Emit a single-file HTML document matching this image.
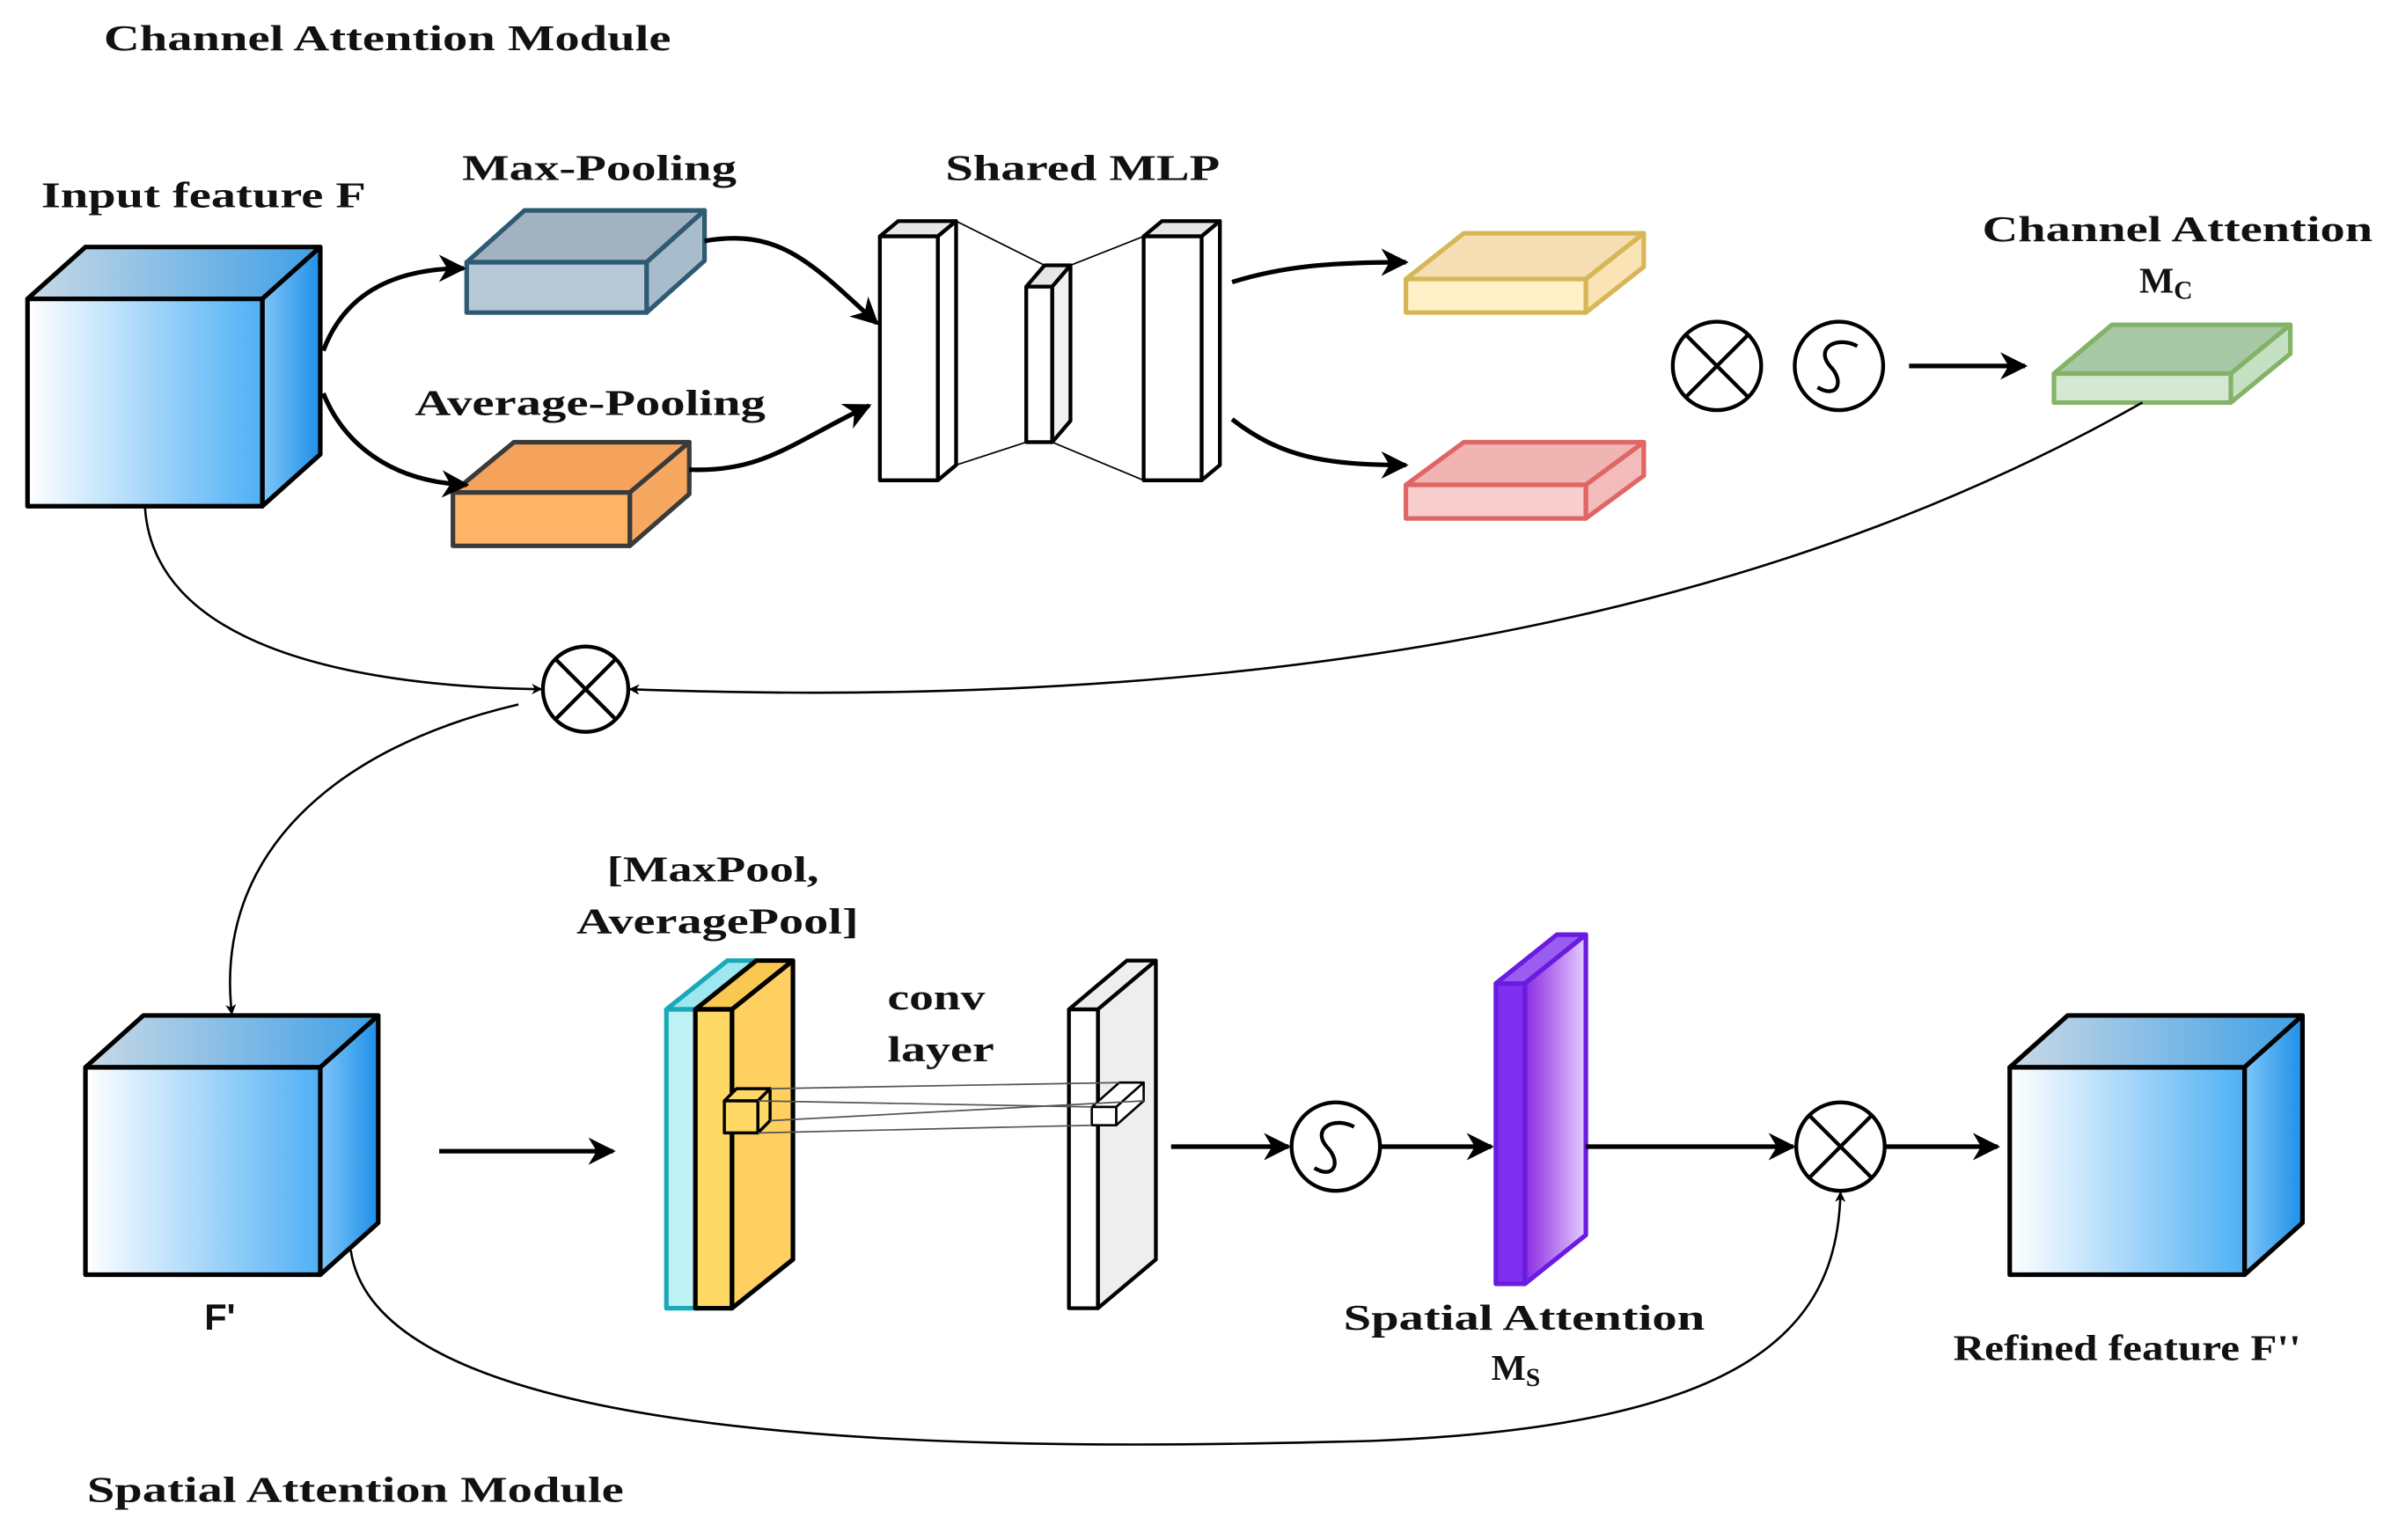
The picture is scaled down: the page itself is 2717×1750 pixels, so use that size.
<!DOCTYPE html>
<html><head><meta charset="utf-8"><style>
html,body{margin:0;padding:0;background:#fff;}
svg{display:block;}
text{font-family:"Liberation Serif",serif;font-weight:bold;fill:#111;}
</style></head><body>
<svg width="2717" height="1750" viewBox="0 0 1568 1010" xmlns="http://www.w3.org/2000/svg">
<defs>
<linearGradient id="gf" x1="0" x2="1" y1="0" y2="0"><stop offset="0" stop-color="#fff"/><stop offset="1" stop-color="#4fb0f5"/></linearGradient>
<linearGradient id="gt" x1="0" x2="1" y1="0" y2="0"><stop offset="0" stop-color="#c9d9e6"/><stop offset="1" stop-color="#3f9fe6"/></linearGradient>
<linearGradient id="gs" x1="0" x2="1" y1="0" y2="0"><stop offset="0" stop-color="#7fc6f8"/><stop offset="1" stop-color="#1e8fe8"/></linearGradient>
<linearGradient id="gp" x1="0" x2="1" y1="0" y2="0"><stop offset="0" stop-color="#8a2be2"/><stop offset="1" stop-color="#e6ccff"/></linearGradient>
<marker id="a" viewBox="0 0 10 10" refX="9" refY="5" markerWidth="7" markerHeight="7" markerUnits="userSpaceOnUse" orient="auto"><path d="M0,0 L10,5 L0,10 L3,5z" fill="#000"/></marker>
<marker id="A" viewBox="0 0 10 10" refX="9" refY="5" markerWidth="22" markerHeight="18" markerUnits="userSpaceOnUse" orient="auto"><path d="M0,0 L10,5 L0,10 L3,5z" fill="#000"/></marker>
</defs>
<g stroke="#000" stroke-width="3" stroke-linejoin="round">
<g id="cube">
<polygon points="18,196 56,162 210,162 172,196" fill="url(#gt)"/>
<polygon points="172,196 210,162 210,298 172,332" fill="url(#gs)"/>
<rect x="18" y="196" width="154" height="136" fill="url(#gf)"/>
</g>
<use href="#cube" transform="translate(38,504)"/>
<use href="#cube" transform="translate(1300,504)"/>
<g stroke="#2e5a73"><polygon points="306,172 344,138 462,138 424,172" fill="#a3b2c0"/><polygon points="424,172 462,138 462,171 424,205" fill="#a9bccb"/><rect x="306" y="172" width="118" height="33" fill="#b7c8d6"/></g>
<g stroke="#3a3a3a"><polygon points="297,323 337,290 452,290 413,323" fill="#f5a35c"/><polygon points="413,323 452,290 452,324 413,358" fill="#f7a860"/><rect x="297" y="323" width="116" height="35" fill="#ffb366"/></g>
<g stroke-width="2.5" fill="#fff">
<polygon points="577,155 589,145 627,145 615,155" fill="#e6e6e6"/><polygon points="615,155 627,145 627,305 615,315"/><rect x="577" y="155" width="38" height="160"/>
<polygon points="673,188 685,174 702,174 690,188" fill="#e6e6e6"/><polygon points="690,188 702,174 702,276 690,290" fill="#f0f0f0"/><rect x="673" y="188" width="17" height="102"/>
<polygon points="750,155 762,145 800,145 788,155" fill="#e6e6e6"/><polygon points="788,155 800,145 800,305 788,315"/><rect x="750" y="155" width="38" height="160"/>
</g>
<g stroke-width="1"><line x1="627" y1="145" x2="685" y2="174"/><line x1="627" y1="305" x2="673" y2="290"/><line x1="750" y1="155" x2="702" y2="174"/><line x1="750" y1="315" x2="690" y2="290"/></g>
<g stroke="#d6b656"><polygon points="922,183 960,153 1078,153 1040,183" fill="#f5deb3"/><polygon points="1040,183 1078,153 1078,175 1040,205" fill="#fae3b5"/><rect x="922" y="183" width="118" height="22" fill="#fff0c8"/></g>
<g stroke="#e06666"><polygon points="922,318 960,290 1078,290 1040,318" fill="#f0b4b2"/><polygon points="1040,318 1078,290 1078,312 1040,340" fill="#f3bcbb"/><rect x="922" y="318" width="118" height="22" fill="#f8cecc"/></g>
<g stroke="#82b366"><polygon points="1347,245 1385,213 1502,213 1463,245" fill="#a8c8a6"/><polygon points="1463,245 1502,213 1502,232 1463,264" fill="#c6e0c4"/><rect x="1347" y="245" width="116" height="19" fill="#d5e8d4"/></g>
<polygon points="437,662 477,630 497,630 457,662" fill="#9ee7ee" stroke="#1aa9b7"/><polygon points="457,662 497,630 497,826 457,858" fill="#7ad6e0" stroke="#1aa9b7"/><rect x="437" y="662" width="20" height="196" fill="#bff2f5" stroke="#1aa9b7"/>
<polygon points="456,662 496,630 520,630 480,662" fill="#f8c850"/><polygon points="480,662 520,630 520,826 480,858" fill="#ffd060"/><rect x="456" y="662" width="24" height="196" fill="#ffd966"/>
<g stroke-width="2"><polygon points="475,722 483,714 505,714 497,722" fill="#ffd966"/><polygon points="497,722 505,714 505,735 497,743" fill="#ffd966"/><rect x="475" y="722" width="22" height="21" fill="#ffd966"/></g>
<polygon points="701,662 739,630 758,630 720,662" fill="#eee" stroke-width="2.5"/><polygon points="720,662 758,630 758,826 720,858" fill="#eee" stroke-width="2.5"/><rect x="701" y="662" width="19" height="196" fill="#fff" stroke-width="2.5"/>
<g stroke-width="1.5" fill="#fff"><polygon points="716,726 734,710 750,710 732,726"/><polygon points="732,726 750,710 750,722 732,738"/><rect x="716" y="726" width="16" height="12"/></g>
<g stroke-width="1" stroke="#555"><line x1="505" y1="714" x2="734" y2="710"/><line x1="497" y1="722" x2="716" y2="726"/><line x1="505" y1="735" x2="750" y2="722"/><line x1="497" y1="743" x2="716" y2="738"/></g>
<polygon points="981,645 1021,613 1040,613 1000,645" fill="#9b5cf0" stroke="#6a1be0"/><polygon points="1000,645 1040,613 1040,810 1000,842" fill="url(#gp)" stroke="#6a1be0"/><rect x="981" y="645" width="19" height="197" fill="#7f2ff0" stroke="#6a1be0"/>
<g fill="#fff" stroke-width="2.5">
<circle cx="1126" cy="240" r="29"/><circle cx="1206" cy="240" r="29"/><circle cx="384" cy="452" r="28"/><circle cx="876" cy="752" r="29"/><circle cx="1207" cy="752" r="29"/>
</g>
<g stroke-width="2.5" fill="none">
<path d="M1106,220 L1146,260 M1146,220 L1106,260"/><path d="M364,432 L404,472 M404,432 L364,472"/><path d="M1187,732 L1227,772 M1227,732 L1187,772"/>
<path d="M1218,227 C1205,220 1190,228 1200,240 C1210,250 1205,262 1192,254"/>
<path d="M888,739 C875,732 860,740 870,752 C880,762 875,774 862,766"/>
</g>
<g fill="none" stroke-width="3">
<path d="M212,230 C225,195 255,176 304,176" marker-end="url(#A)"/>
<path d="M212,258 C225,290 255,316 306,318" marker-end="url(#A)"/>
<path d="M462,158 C510,150 530,170 575,212" marker-end="url(#A)"/>
<path d="M452,308 C500,310 520,290 570,266" marker-end="url(#A)"/>
<path d="M808,185 C840,175 870,172 922,172" marker-end="url(#A)"/>
<path d="M808,275 C840,300 870,305 922,305" marker-end="url(#A)"/>
<path d="M1252,240 L1328,240" marker-end="url(#A)"/>
<path d="M288,755 L402,755" marker-end="url(#A)"/>
<path d="M768,752 L845,752" marker-end="url(#A)"/>
<path d="M906,752 L978,752" marker-end="url(#A)"/>
<path d="M1040,752 L1176,752" marker-end="url(#A)"/>
<path d="M1237,752 L1310,752" marker-end="url(#A)"/>
</g>
<g fill="none" stroke-width="1.5">
<path d="M95,332 C100,420 220,450 355,452" marker-end="url(#a)"/>
<path d="M1405,264 C1200,380 900,470 413,452" marker-end="url(#a)"/>
<path d="M340,462 C220,490 140,560 152,665" marker-end="url(#a)"/>
<path d="M230,820 C250,960 700,950 900,945 C1150,935 1205,870 1207,782" marker-end="url(#a)"/>
</g>
</g>
<g font-size="24">
<text x="68" y="33" textLength="372" lengthAdjust="spacingAndGlyphs">Channel Attention Module</text>
<text x="27" y="136" textLength="213" lengthAdjust="spacingAndGlyphs">Input feature F</text>
<text x="303" y="118" textLength="180" lengthAdjust="spacingAndGlyphs">Max-Pooling</text>
<text x="620" y="118" textLength="180" lengthAdjust="spacingAndGlyphs">Shared MLP</text>
<text x="272" y="272" textLength="230" lengthAdjust="spacingAndGlyphs">Average-Pooling</text>
<text x="1300" y="158" textLength="256" lengthAdjust="spacingAndGlyphs">Channel Attention</text>
<text x="1403" y="192">M<tspan font-size="17" dy="4">C</tspan></text>
<text x="398" y="578" textLength="139" lengthAdjust="spacingAndGlyphs">[MaxPool,</text>
<text x="378" y="612" textLength="185" lengthAdjust="spacingAndGlyphs">AveragePool]</text>
<text x="582" y="662" textLength="64" lengthAdjust="spacingAndGlyphs">conv</text>
<text x="582" y="696" textLength="70" lengthAdjust="spacingAndGlyphs">layer</text>
<text x="134" y="872" style="font-family:'Liberation Sans',sans-serif">F'</text>
<text x="881" y="872" textLength="237" lengthAdjust="spacingAndGlyphs">Spatial Attention</text>
<text x="978" y="905">M<tspan font-size="17" dy="4">S</tspan></text>
<text x="1281" y="892" textLength="228" lengthAdjust="spacingAndGlyphs">Refined feature F''</text>
<text x="57" y="985" textLength="352" lengthAdjust="spacingAndGlyphs">Spatial Attention Module</text>
</g>
</svg>
</body></html>
